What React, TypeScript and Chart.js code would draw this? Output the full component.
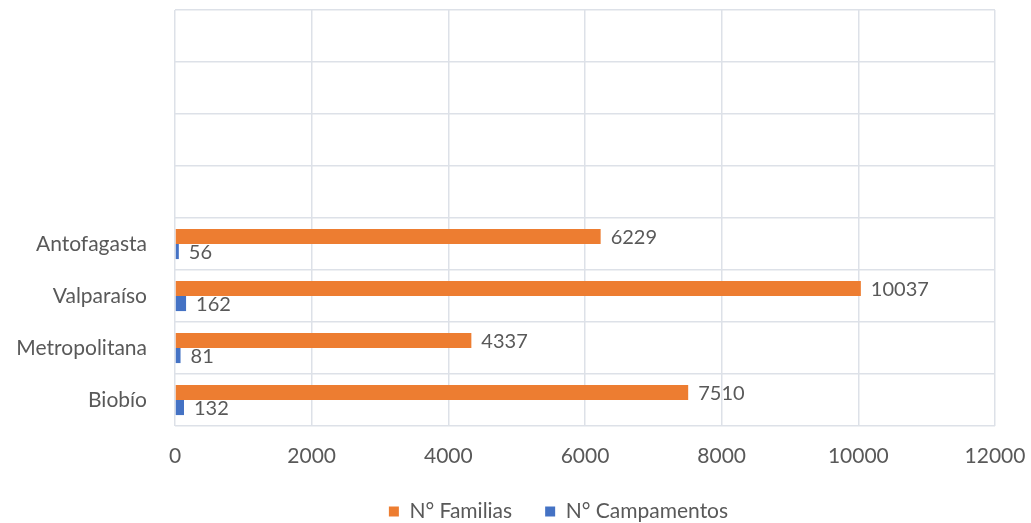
import React, { useEffect, useRef } from "react";
import { Chart, registerables } from "chart.js";

Chart.register(...registerables);

const categories = ["", "", "", "", "Antofagasta", "Valparaíso", "Metropolitana", "Biobío"];
const familias = [null, null, null, null, 6229, 10037, 4337, 7510];
const campamentos = [null, null, null, null, 56, 162, 81, 132];
const xTicks = [0, 2000, 4000, 6000, 8000, 10000, 12000];

const FONT = "Lato, 'DejaVu Sans', sans-serif";
const TEXT = "#595959";

const valueLabels = {
  id: "valueLabels",
  afterDatasetsDraw(chart: any) {
    const ctx = chart.ctx;
    ctx.save();
    ctx.font = `20px ${FONT}`;
    ctx.fillStyle = TEXT;
    ctx.textAlign = "left";
    ctx.textBaseline = "middle";
    chart.data.datasets.forEach((ds: any, di: number) => {
      const meta = chart.getDatasetMeta(di);
      meta.data.forEach((bar: any, i: number) => {
        const v = ds.data[i];
        if (v === null || v === undefined) return;
        ctx.fillText(String(v), bar.x + 10, bar.y + 1);
      });
    });
    ctx.restore();
  },
};

const legendShift = {
  id: "legendShift",
  afterLayout(chart: any) {
    const lg = chart.legend;
    if (lg) {
      lg.left += 61;
      lg.right += 61;
    }
  },
};

export default function App() {
  const ref = useRef<HTMLCanvasElement>(null);
  useEffect(() => {
    document.body.style.margin = "0";
    const chart = new Chart(ref.current!, {
      type: "bar",
      data: {
        labels: categories,
        datasets: [
          {
            label: "N° Familias",
            data: familias as any,
            backgroundColor: "#ED7D31",
            categoryPercentage: 0.58,
            barPercentage: 1,
          },
          {
            label: "N° Campamentos",
            data: campamentos as any,
            backgroundColor: "#4472C4",
            categoryPercentage: 0.58,
            barPercentage: 1,
          },
        ],
      },
      options: {
        indexAxis: "y",
        animation: false,
        responsive: false,
        layout: { padding: { left: 0, right: 36, top: 10, bottom: -9 } },
        scales: {
          x: {
            min: 0,
            max: 12000,
            afterBuildTicks(axis: any) {
              axis.ticks = xTicks.map((v) => ({ value: v }));
            },
            afterFit(axis: any) {
              axis.height = 42;
              axis.paddingLeft = 0;
              axis.paddingRight = 0;
            },
            grid: { color: "#dde1e8", drawTicks: false, lineWidth: 1.5 },
            border: { display: false },
            ticks: {
              padding: 18,
              color: TEXT,
              font: { family: FONT, size: 21 },
              callback: (v: any) => String(v),
            },
          },
          y: {
            afterFit(axis: any) {
              axis.width = 175;
              axis.paddingTop = 0;
              axis.paddingBottom = 0;
            },
            grid: { color: "#dde1e8", drawTicks: false, lineWidth: 1.5, offset: true },
            border: { display: false },
            ticks: {
              padding: 28,
              color: TEXT,
              font: { family: FONT, size: 21 },
            },
          },
        },
        plugins: {
          legend: {
            position: "bottom",
            labels: {
              boxWidth: 10,
              boxHeight: 10,
              padding: 33,
              color: TEXT,
              font: { family: FONT, size: 21 },
            },
          },
          tooltip: { enabled: false },
        },
      },
      plugins: [valueLabels, legendShift],
    });
    return () => chart.destroy();
  }, []);
  return (
    <div style={{ width: 1031, height: 523 }}>
      <canvas ref={ref} width={1031} height={523} style={{ display: "block" }} />
    </div>
  );
}
